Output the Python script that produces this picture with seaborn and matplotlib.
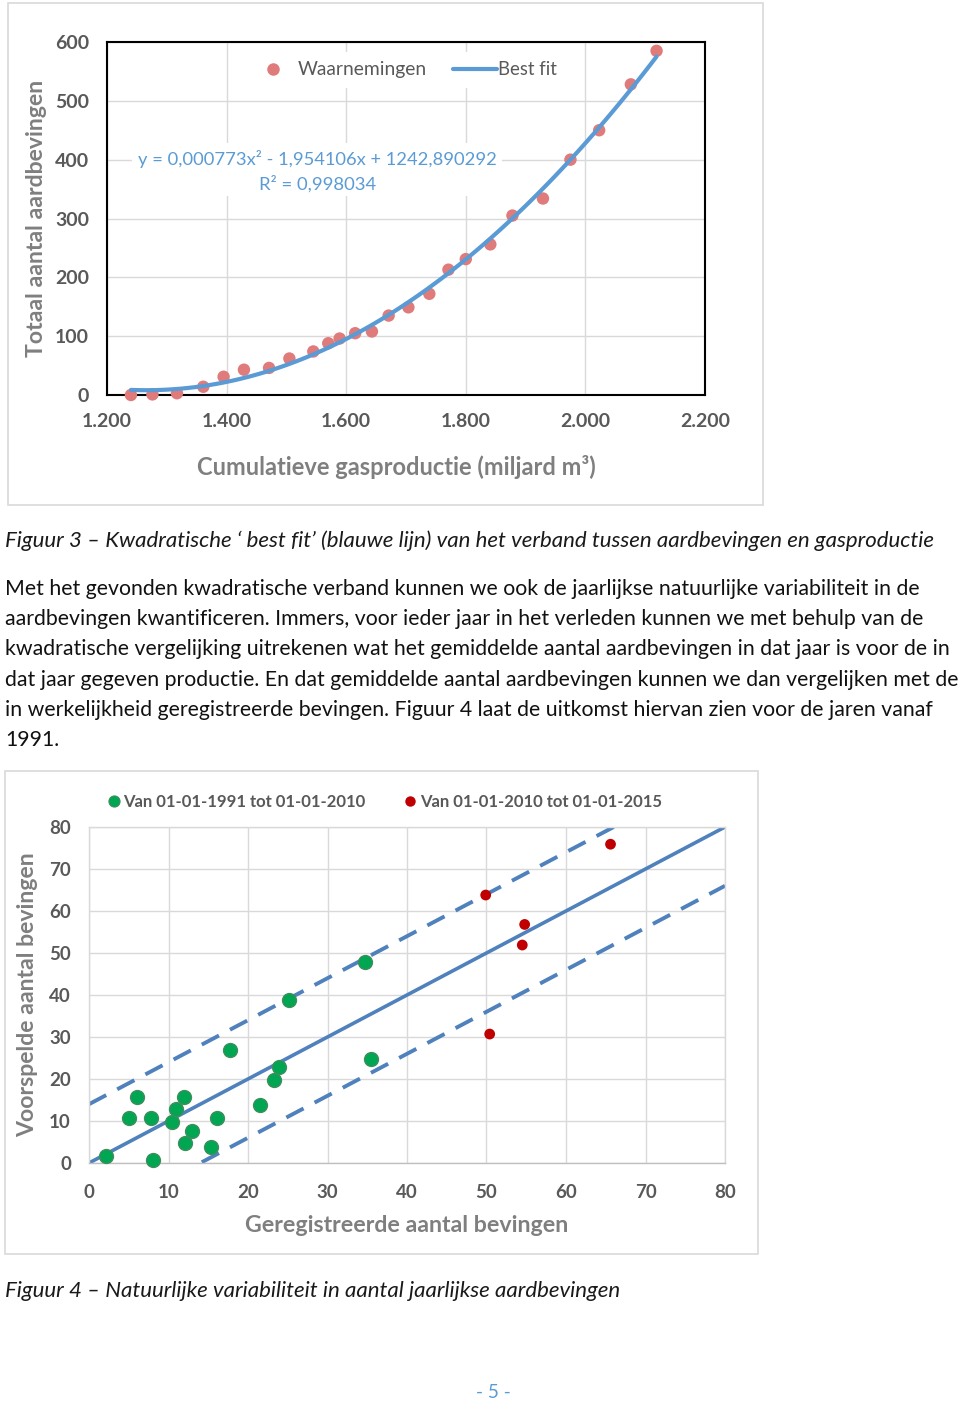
import matplotlib
matplotlib.use("Agg")
import matplotlib.pyplot as plt
from matplotlib.patches import Rectangle
from matplotlib.lines import Line2D
import seaborn as sns
import pandas as pd

# ---------------- data ----------------
# Figure 3: cumulative gas production vs total earthquakes
gas_production = [1240, 1276, 1317, 1361, 1395, 1429, 1471, 1505, 1545, 1570, 1589,
                  1615, 1643, 1671, 1704, 1739, 1771, 1800, 1841, 1878, 1929, 1975,
                  2023, 2076, 2119]
total_quakes = [0, 1, 3, 14, 31, 43, 46, 62, 74, 88, 96, 105, 108, 135, 149, 172,
                213, 231, 256, 305, 334, 400, 450, 528, 585]
x1_ticks = [1200, 1400, 1600, 1800, 2000, 2200]
x1_labels = ["1.200", "1.400", "1.600", "1.800", "2.000", "2.200"]
y1_ticks = [0, 100, 200, 300, 400, 500, 600]
fit_equation = "y = 0,000773x² - 1,954106x + 1242,890292"
fit_r2 = "R² = 0,998034"

# Figure 4: registered vs predicted number of quakes
reg_1991 = [2.1, 5.0, 6.1, 7.8, 8.1, 10.4, 10.9, 12.0, 12.1, 12.9, 15.3, 16.1,
            17.7, 21.5, 23.3, 23.9, 25.2, 34.7, 35.5]
pred_1991 = [1.7, 10.8, 15.8, 10.8, 0.7, 9.7, 12.9, 15.8, 4.8, 7.7, 3.7, 10.8,
             26.9, 13.8, 19.8, 22.9, 38.8, 47.9, 24.8]
reg_2010 = [49.9, 50.4, 54.5, 54.8, 65.6]
pred_2010 = [63.8, 30.7, 51.9, 56.8, 75.9]
diag_range = [0, 80]
band_offset = 14
ticks2 = [0, 10, 20, 30, 40, 50, 60, 70, 80]
label_1991 = "Van 01-01-1991 tot 01-01-2010"
label_2010 = "Van 01-01-2010 tot 01-01-2015"

body_lines = [
    "Met het gevonden kwadratische verband kunnen we ook de jaarlijkse natuurlijke variabiliteit in de",
    "aardbevingen kwantificeren. Immers, voor ieder jaar in het verleden kunnen we met behulp van de",
    "kwadratische vergelijking uitrekenen wat het gemiddelde aantal aardbevingen in dat jaar is voor de in",
    "dat jaar gegeven productie. En dat gemiddelde aantal aardbevingen kunnen we dan vergelijken met de",
    "in werkelijkheid geregistreerde bevingen. Figuur 4 laat de uitkomst hiervan zien voor de jaren vanaf",
    "1991.",
]
caption3 = "Figuur 3 – Kwadratische ‘ best fit’ (blauwe lijn) van het verband tussen aardbevingen en gasproductie"
caption4 = "Figuur 4 – Natuurlijke variabiliteit in aantal jaarlijkse aardbevingen"

# ---------------- style ----------------
sns.set_theme(style="white")
plt.rcParams["font.family"] = ["Lato", "DejaVu Sans"]

W, H = 960, 1401
fig = plt.figure(figsize=(W / 100, H / 100), dpi=100)
fig.patch.set_facecolor("white")
renderer = fig.canvas.get_renderer()

GREY = "#595959"
LABEL_GREY = "#7F7F7F"
GRID = "#D9D9D9"


def fx(x):
    return x / W


def fy(y):
    return 1 - y / H


def ftext(x, y, s, width=None, size=12, rotation=0, **kw):
    t = fig.text(fx(x), fy(y), s, fontsize=size, rotation=rotation, **kw)
    if width:
        bb = t.get_window_extent(renderer)
        cur = bb.height if rotation in (90, 270) else bb.width
        t.set_fontsize(size * width / cur)
    return t


def axes_px(left, top, right, bottom):
    return fig.add_axes([fx(left), fy(bottom), (right - left) / W, (bottom - top) / H])


def border(left, top, right, bottom):
    fig.add_artist(Rectangle((fx(left), fy(bottom)), (right - left) / W, (bottom - top) / H,
                             transform=fig.transFigure, fill=False,
                             edgecolor="#D9D9D9", lw=1.2))


# ================= Figure 3 =================
border(8, 3, 763, 505)
ax1 = axes_px(107, 42, 705, 395)
df1 = pd.DataFrame({"gas": gas_production, "quakes": total_quakes})
sns.scatterplot(data=df1, x="gas", y="quakes", ax=ax1, color="#E07B7B", s=80,
                edgecolor="none", clip_on=False, zorder=3)
sns.regplot(data=df1, x="gas", y="quakes", ax=ax1, order=2, ci=None, scatter=False,
            truncate=True, line_kws=dict(color="#5B9BD5", lw=3.0, zorder=4,
                                         solid_capstyle="round"))
ax1.set_xlim(1200, 2200)
ax1.set_ylim(0, 600)
ax1.set_xticks(x1_ticks)
ax1.set_xticklabels(x1_labels)
ax1.set_yticks(y1_ticks)
ax1.set_xlabel("")
ax1.set_ylabel("")
ax1.grid(True, color=GRID, lw=1.0)
ax1.set_axisbelow(True)
for sp in ax1.spines.values():
    sp.set_color("black")
    sp.set_linewidth(1.5)
    sp.set_zorder(2)
ax1.tick_params(axis="both", length=0, labelsize=14, labelcolor=GREY)
ax1.tick_params(axis="x", pad=13)
ax1.tick_params(axis="y", pad=13)
for lab in ax1.get_xticklabels() + ax1.get_yticklabels():
    lab.set_fontweight("bold")

# legend (white box hides grid)
fig.add_artist(Rectangle((fx(258), fy(88)), (565 - 258) / W, (88 - 52) / H,
                         transform=fig.transFigure, facecolor="white",
                         edgecolor="none", zorder=5))
fig.add_artist(Line2D([fx(273)], [fy(69)], marker="o", markersize=9,
                      color="#E07B7B", markeredgecolor="none",
                      transform=fig.transFigure, zorder=6))
fig.add_artist(Line2D([fx(453), fx(497)], [fy(69), fy(69)], lw=3.0, color="#5B9BD5",
                      transform=fig.transFigure, zorder=6, solid_capstyle="round"))
ftext(298, 75, "Waarnemingen", width=129, size=13, color=GREY, zorder=6)
ftext(498, 75, "Best fit", width=59, size=13, color=GREY, zorder=6)

# equation text with white background
fig.add_artist(Rectangle((fx(132), fy(196)), (502 - 132) / W, (196 - 143) / H,
                         transform=fig.transFigure, facecolor="white",
                         edgecolor="none", zorder=5))
ftext(138, 165, fit_equation, width=358, size=13, color="#5B9BD5", zorder=6)
ftext(317.5, 190, fit_r2, width=117, size=13, color="#5B9BD5", ha="center", zorder=6)

ftext(37, 218, "Totaal aantal aardbevingen", width=277, size=15, rotation=90,
      color=LABEL_GREY, fontweight="bold", ha="center", va="center")
ftext(396.5, 475, "Cumulatieve gasproductie (miljard m³)", width=399, size=15,
      color=LABEL_GREY, fontweight="bold", ha="center")

# ================= text =================
ftext(5, 547, caption3, width=936, size=14, style="italic", color="#1A1A1A")
t0 = ftext(5, 595, body_lines[0], width=913, size=14, color="#111111")
body_size = t0.get_fontsize()
for i, line in enumerate(body_lines[1:], start=1):
    ftext(5, 595 + 30.2 * i, line, size=body_size, color="#111111")

# ================= Figure 4 =================
border(5, 771, 758, 1254)
ax2 = axes_px(89, 827, 725, 1163)
ax2.plot(diag_range, diag_range, color="#4F81BD", lw=2.6, zorder=2)
ax2.plot(diag_range, [v + band_offset for v in diag_range], color="#4F81BD", lw=2.8,
         ls=(0, (5, 3.2)), zorder=2)
ax2.plot(diag_range, [v - band_offset for v in diag_range], color="#4F81BD", lw=2.8,
         ls=(0, (5, 3.2)), zorder=2)
df_a = pd.DataFrame({"reg": reg_1991, "pred": pred_1991})
df_b = pd.DataFrame({"reg": reg_2010, "pred": pred_2010})
sns.scatterplot(data=df_a, x="reg", y="pred", ax=ax2, color="#00A651", s=100,
                edgecolor="#3E8E5E", linewidth=1.0, clip_on=False, zorder=4)
sns.scatterplot(data=df_b, x="reg", y="pred", ax=ax2, color="#C00000", s=60,
                edgecolor="none", clip_on=False, zorder=4)
ax2.set_xlim(0, 80)
ax2.set_ylim(0, 80)
ax2.set_xticks(ticks2)
ax2.set_yticks(ticks2)
ax2.set_xlabel("")
ax2.set_ylabel("")
ax2.grid(True, color=GRID, lw=1.0)
ax2.set_axisbelow(True)
for name, sp in ax2.spines.items():
    sp.set_color(GRID)
    sp.set_linewidth(1.0)
ax2.spines["bottom"].set_color("#BFBFBF")
ax2.tick_params(axis="both", length=0, labelsize=13.5, labelcolor=GREY)
ax2.tick_params(axis="x", pad=15)
ax2.tick_params(axis="y", pad=13)
for lab in ax2.get_xticklabels() + ax2.get_yticklabels():
    lab.set_fontweight("bold")

fig.add_artist(Line2D([fx(114)], [fy(800.5)], marker="o", markersize=8,
                      color="#00A651", markeredgecolor="#3E8E5E", markeredgewidth=0.8,
                      transform=fig.transFigure))
fig.add_artist(Line2D([fx(410)], [fy(800.5)], marker="o", markersize=7.5,
                      color="#C00000", markeredgecolor="none",
                      transform=fig.transFigure))
ftext(123, 807, label_1991, width=241, size=12, color=GREY, fontweight="bold")
ftext(420, 807, label_2010, width=241, size=12, color=GREY, fontweight="bold")

ftext(28, 995, "Voorspelde aantal bevingen", width=286, size=15, rotation=90,
      color=LABEL_GREY, fontweight="bold", ha="center", va="center")
ftext(407, 1232, "Geregistreerde aantal bevingen", width=324, size=15,
      color=LABEL_GREY, fontweight="bold", ha="center")

ftext(5, 1297, caption4, width=618, size=14, style="italic", color="#1A1A1A")
ftext(493.5, 1398, "- 5 -", width=35, size=13, color="#5B9BD5", ha="center")

fig.savefig("out.png", dpi=100, facecolor="white")
